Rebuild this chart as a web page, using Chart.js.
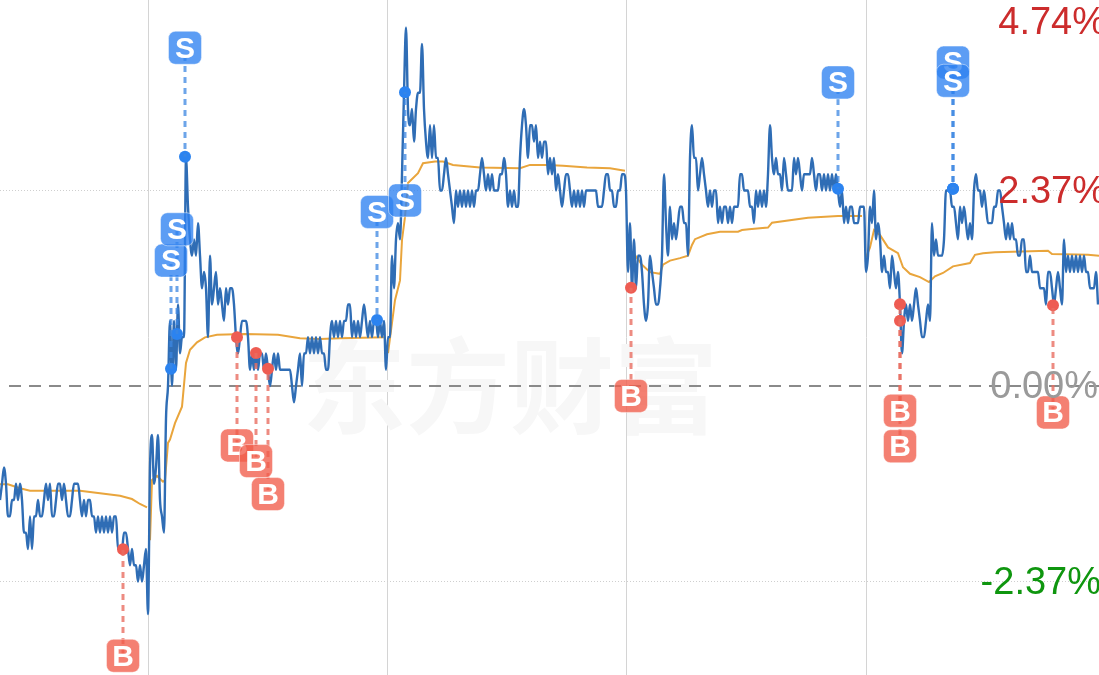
<!DOCTYPE html>
<html><head><meta charset="utf-8">
<style>html,body{margin:0;padding:0;background:#fff;overflow:hidden}canvas{display:block;filter:blur(0.45px)}</style>
<script src="https://cdn.jsdelivr.net/npm/chart.js@4"></script>
</head><body><canvas id="c" width="1099" height="675"></canvas>
<script>
// price in ticks from previous close, one reading every 2 time units
const tickPct = 0.1975;
const sampleStep = 2;
const session0Start = 0;
const session0 = [-7,-6,-5,-6,-8,-8,-7,-7,-6,-7,-6,-7,-9,-9,-10,-8,-10,-8,-8,-7,-8,-8,-7,-6,-7,-6,-8,-8,-7,-6,-6,-7,-6,-7,-8,-8,-7,-6,-6,-6,-7,-8,-7,-8,-7,-7,-8,-8,-9,-8,-9,-8,-9,-8,-9,-8,-9,-8,-8,-10,-10,-10,-9,-9,-10,-11,-10,-11,-11,-12,-11,-12,-11,-10];
const session1Start = 148;
const session1 = [-14,-5,-3,-6,-5,-3,-7,-8,-9,-2,0,4,0,4,1,5,2,3,3,14,11,9,8,9,8,10,8,6,7,6,3,8,5,6,7,5,6,5,4,6,5,6,6,5,3,2,3,4,4,4,3,1,2,1,2,1,2,2,1,2,1,0,1,2,1,2,1,1,1,1,1,1,0,-1,0,1,2,0,2,2,3,2,3,2,3,2,3,2,2,1,1,3,4,3,4,3,4,3,4,4,5,5,3,4,3,4,3,4,5,4,3,4,3,4,4,3,4,3,4,1];
const session2Start = 388;
const session2 = [3,3,8,6,9,10,9,13,18,22,17,16,17,15,17,18,18,21,17,15,14,16,14,16,14,14,12,12,13,14,13,12,11,10,12,11,12,11,12,11,12,11,12,11,12,12,13,14,13,12,13,12,13,12,12,12,13,13,14,13,11,12,11,12,11,11,14,16,17,16,14,16,16,15,16,14,15,14,15,15,13,14,13,14,12,13,12,11,12,13,13,12,11,12,11,12,11,12,11,12,12,12,12,12,12,11,11,11,12,13,13,12,12,11,11,12,12,13,13,12];
const session3Start = 628;
const session3 = [7,10,6,9,6,8,8,7,5,4,5,8,7,6,5,5,6,8,13,10,8,11,9,10,9,10,11,11,10,10,8,14,16,14,14,12,13,14,13,12,11,12,11,12,12,10,11,10,11,11,10,11,10,11,11,11,13,13,12,12,12,11,11,10,12,11,12,11,12,11,13,16,14,13,14,13,13,12,14,13,12,12,12,14,13,14,13,12,13,13,13,13,14,13,12,13,13,12,13,12,13,12,13,12,13,12,11,12,10,11,10,11,11,10,10,10,11,11,11];
const session4Start = 866;
const session4 = [7,8,11,10,12,9,10,9,7,8,7,7,6,8,7,6,7,5,2,4,5,4,5,4,5,6,5,4,3,3,4,5,4,10,8,9,8,8,8,9,12,12,12,11,11,10,9,11,10,11,10,9,10,9,12,13,12,12,11,12,11,10,10,10,11,11,12,12,11,10,9,10,9,10,9,9,8,8,9,9,7,7,8,7,7,7,7,6,6,6,5,7,7,6,5,6,7,6,5,9,7,8,7,8,7,8,7,8,7,8,7,7,6,6,6,7,5];
// average price line, percent
const avg0T = [0,8,20,30,42,60,80,100,120,132,140,147];
const avg0V = [-1.19,-1.19,-1.24,-1.27,-1.27,-1.27,-1.27,-1.30,-1.33,-1.37,-1.43,-1.47];
const avg1T = [150,152,157,163,165,168,170,175,182,186,190,197,205,217,245,278,300,320,340,385];
const avg1V = [-1.87,-1.14,-1.09,-1.16,-1.14,-0.69,-0.65,-0.45,-0.25,0.28,0.44,0.53,0.59,0.62,0.63,0.62,0.58,0.57,0.58,0.59];
const avg2T = [388,395,400,402,405,408,418,423,435,443,453,480,520,530,547,563,587,610,625];
const avg2V = [0.40,1.04,1.28,1.77,2.05,2.46,2.58,2.70,2.72,2.72,2.68,2.65,2.64,2.68,2.68,2.67,2.65,2.64,2.61];
const avg3T = [627,633,642,650,660,663,670,680,688,692,695,707,720,738,742,749,768,772,808,838,862];
const avg3V = [1.65,1.62,1.47,1.38,1.36,1.47,1.52,1.55,1.58,1.71,1.78,1.84,1.87,1.87,1.89,1.90,1.92,1.98,2.04,2.06,2.06];
const avg4T = [866,870,874,880,888,898,903,910,920,929,935,943,953,970,975,983,995,1048,1052,1088,1099];
const avg4V = [1.56,1.68,1.89,1.83,1.68,1.61,1.44,1.36,1.32,1.26,1.33,1.37,1.45,1.49,1.59,1.61,1.62,1.64,1.60,1.59,1.58];
// trades
const buyT = [123,237,256,268,631,900,900,1053];
const buyV = [-1.98,0.59,0.40,0.21,1.19,0.99,0.79,0.98];
const buyFlag = [-3.27,-0.72,-0.91,-1.31,-0.12,-0.30,-0.73,-0.32];
const sellT = [185,171,177,377,405,838,953,953];
const sellV = [2.78,0.21,0.63,0.80,3.56,2.39,2.39,2.39];
const sellFlag = [4.10,1.52,1.90,2.11,2.25,3.68,3.92,3.70];
// axes
const sessionBreaks = [148,387,626,866];
const yGridValues = [-2.37,0,2.37];
const yTickValues = [4.74,2.37,0,-2.37];
const yTickLabels = ['4.74%','2.37%','0.00%','-2.37%'];

const blue = [];
[[session0Start,session0],[session1Start,session1],[session2Start,session2],[session3Start,session3],[session4Start,session4]]
  .forEach(([s,a])=>a.forEach((n,i)=>blue.push({x:s+i*sampleStep,y:n*tickPct})));
const orange = [];
[[avg0T,avg0V],[avg1T,avg1V],[avg2T,avg2V],[avg3T,avg3V],[avg4T,avg4V]].forEach(([t,v])=>{
  t.forEach((x,i)=>orange.push({x,y:v[i]}));
  orange.push({x:t[t.length-1]+0.5,y:null});
});
const zip=(t,v)=>t.map((x,i)=>({x,y:v[i]}));

function rr(ctx,x,y,w,h,r){ctx.beginPath();ctx.roundRect(x,y,w,h,r);}
const overlay={
  id:'overlay',
  beforeDatasetsDraw(ch){
    const {ctx}=ch;
    ctx.save();ctx.fillStyle='#f7f7f7';ctx.font='bold 104px "Noto Sans CJK SC"';
    ctx.textAlign='center';ctx.textBaseline='middle';
    ctx.fillText('东方财富',510,386);ctx.restore();
  },
  afterDatasetsDraw(ch){
    const {ctx,scales:{x,y}}=ch;
    const flags=(T,V,F,line,fill,txt)=>{
      T.forEach((t,i)=>{
        const px=x.getPixelForValue(t),p0=y.getPixelForValue(V[i]),p1=y.getPixelForValue(F[i]);
        const a=Math.min(p0,p1),b=Math.max(p0,p1);
        ctx.save();ctx.strokeStyle=line;ctx.lineWidth=3;ctx.setLineDash([6,5]);ctx.lineDashOffset=a;
        ctx.beginPath();ctx.moveTo(px,a);ctx.lineTo(px,b);ctx.stroke();ctx.restore();
      });
      T.forEach((t,i)=>{
        const px=x.getPixelForValue(t),p1=y.getPixelForValue(F[i]);
        ctx.save();rr(ctx,px-16.5,p1-16.5,33,33,7);ctx.fillStyle=fill;ctx.fill();
        ctx.strokeStyle='rgba(255,255,255,.45)';ctx.lineWidth=1;ctx.stroke();
        ctx.fillStyle='#fff';ctx.font='bold 30px "Liberation Sans"';ctx.textAlign='center';ctx.textBaseline='middle';
        ctx.fillText(txt,px,p1+1.5);ctx.restore();
      });
    };
    flags(buyT,buyV,buyFlag,'rgba(232,110,98,.8)','rgba(241,92,74,.78)','B');
    flags(sellT,sellV,sellFlag,'rgba(60,135,225,.75)','rgba(46,129,241,.78)','S');
    // y labels
    ctx.save();ctx.font='38px "Liberation Sans"';ctx.textBaseline='middle';ctx.textAlign='right';
    const colors=['#cc2c2c','#cc2c2c','#9a9a9a','#0f960f'];
    const rights=[1106,1106,1098,1101];
    yTickValues.forEach((v,i)=>{
      const py=Math.max(y.getPixelForValue(v),22)+2;
      ctx.fillStyle=colors[i];ctx.fillText(yTickLabels[i],rights[i],py);
    });
    ctx.restore();
  }
};
new Chart(document.getElementById('c'),{
  type:'line',
  data:{datasets:[
    {label:'均价',data:orange,borderColor:'#e9a53c',borderWidth:2,pointRadius:0,tension:0,spanGaps:false,order:3},
    {label:'昨收',data:[{x:9,y:0},{x:1099,y:0}],borderColor:'#8a8a8a',borderWidth:2,borderDash:[12,8],pointRadius:0,order:4},
    {label:'价格',data:blue,borderColor:'#2f6db5',borderWidth:2.4,pointRadius:0,cubicInterpolationMode:'monotone',order:2},
    {label:'买',data:zip(buyT,buyV),showLine:false,pointRadius:6,pointBackgroundColor:'#ee5c52',pointBorderWidth:0,order:1},
    {label:'卖',data:zip(sellT,sellV),showLine:false,pointRadius:6,pointBackgroundColor:'#2b83f0',pointBorderWidth:0,order:1}
  ]},
  options:{
    responsive:false,animation:false,
    layout:{padding:0,autoPadding:false},
    plugins:{legend:{display:false},tooltip:{enabled:false}},
    scales:{
      x:{type:'linear',min:0,max:1099,
        afterBuildTicks(s){s.ticks=sessionBreaks.map(value=>({value}));},
        ticks:{display:false},grid:{color:'#d4d4d4',lineWidth:1,drawTicks:false},border:{display:false}},
      y:{type:'linear',min:-3.503,max:4.679,
        afterBuildTicks(s){s.ticks=yGridValues.map(value=>({value}));},
        ticks:{display:false},
        grid:{color:c=>c.tick&&c.tick.value===0?'rgba(0,0,0,0)':'#cfcfcf',lineWidth:1,drawTicks:false},
        border:{display:false,dash:[1,2]}}
    }
  },
  plugins:[overlay]
});
</script></body></html>
